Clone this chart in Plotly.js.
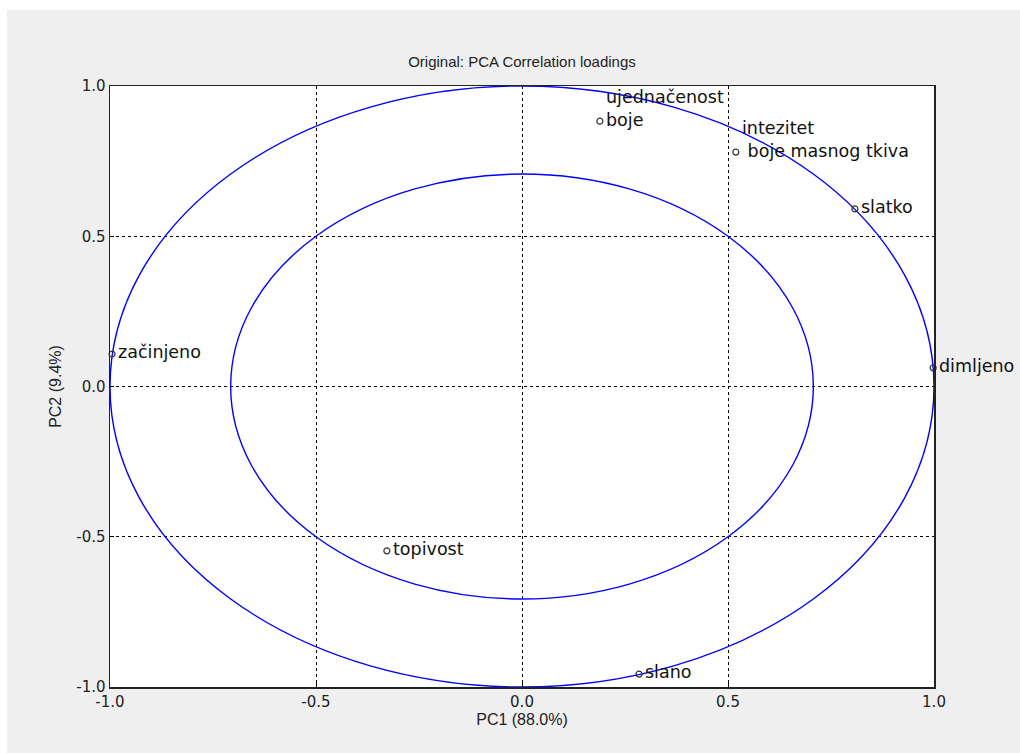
<!DOCTYPE html>
<html>
<head>
<meta charset="utf-8">
<script src="https://cdn.plot.ly/plotly-3.0.1.min.js"></script>
<style>
html,body{margin:0;padding:0;background:#ffffff;}
#chart{position:absolute;left:7px;top:10px;width:1013px;height:743px;}
</style>
</head>
<body>
<div id="chart"></div>
<script>
// Data
const labels = ["ujednačenost<br>boje", "intezitet<br>\u00a0boje masnog tkiva", "slatko", "dimljeno", "začinjeno", "topivost", "slano"];
const pc1 = [0.189, 0.519, 0.808, 0.998, -0.995, -0.328, 0.284];
const pc2 = [0.883, 0.780, 0.591, 0.062, 0.108, -0.547, -0.957];
const tickVals = [-1.0, -0.5, 0.0, 0.5, 1.0];
const tickText = ["-1.0", "-0.5", "0.0", "0.5", "1.0"];
const circleRadii = [1.0, Math.SQRT1_2];

const trace = {
  x: pc1, y: pc2, type: 'scatter', mode: 'markers', cliponaxis: false,
  marker: {symbol: 'circle-open', size: 6, color: '#333333', line: {width: 1.2, color: '#333333'}},
  hoverinfo: 'skip', showlegend: false
};

const annotations = labels.map((t, i) => {
  const multi = t.indexOf('<br>') >= 0;
  return {
    x: pc1[i], y: pc2[i], xref: 'x', yref: 'y', text: t, showarrow: false,
    xanchor: 'left', yanchor: multi ? 'bottom' : 'middle', align: 'left',
    xshift: 4, yshift: multi ? -11 : 2,
    font: {family: 'DejaVu Sans, sans-serif', size: 17.5, color: '#111111'}
  };
});

const shapes = circleRadii.map(r => ({
  type: 'circle', xref: 'x', yref: 'y', x0: -r, x1: r, y0: -r, y1: r,
  line: {color: '#0000ff', width: 1.4}, layer: 'between'
}));

const axisCommon = {
  range: [-1, 1], tickmode: 'array', tickvals: tickVals, ticktext: tickText,
  showgrid: true, gridcolor: '#000000', griddash: 'dot', gridwidth: 1,
  zeroline: false, showline: true, mirror: true, linecolor: '#222222', linewidth: 1.5,
  ticks: 'inside', ticklen: 4, tickcolor: '#000000',
  tickfont: {family: 'DejaVu Sans, sans-serif', size: 15, color: '#222222'},
  fixedrange: true
};

const titleFont = {family: 'Liberation Sans Narrow, Liberation Sans, Arial, sans-serif', size: 15, color: '#222222'};

const layout = {
  width: 1013, height: 743,
  paper_bgcolor: '#efefef', plot_bgcolor: '#ffffff',
  margin: {l: 103, r: 86, t: 76, b: 66},
  title: {text: 'Original: PCA Correlation loadings', x: 0.5, xref: 'paper', y: 0.930, yref: 'container', yanchor: 'middle',
          font: titleFont},
  xaxis: Object.assign({}, axisCommon, {
    title: {text: 'PC1 (88.0%)', standoff: 4, font: Object.assign({}, titleFont, {size: 16})}
  }),
  yaxis: Object.assign({}, axisCommon, {
    title: {text: 'PC2 (9.4%)', standoff: 10, font: Object.assign({}, titleFont, {size: 16})}
  }),
  shapes: shapes,
  annotations: annotations,
  showlegend: false
};

Plotly.newPlot('chart', [trace], layout, {displayModeBar: false, staticPlot: true});
</script>
</body>
</html>
